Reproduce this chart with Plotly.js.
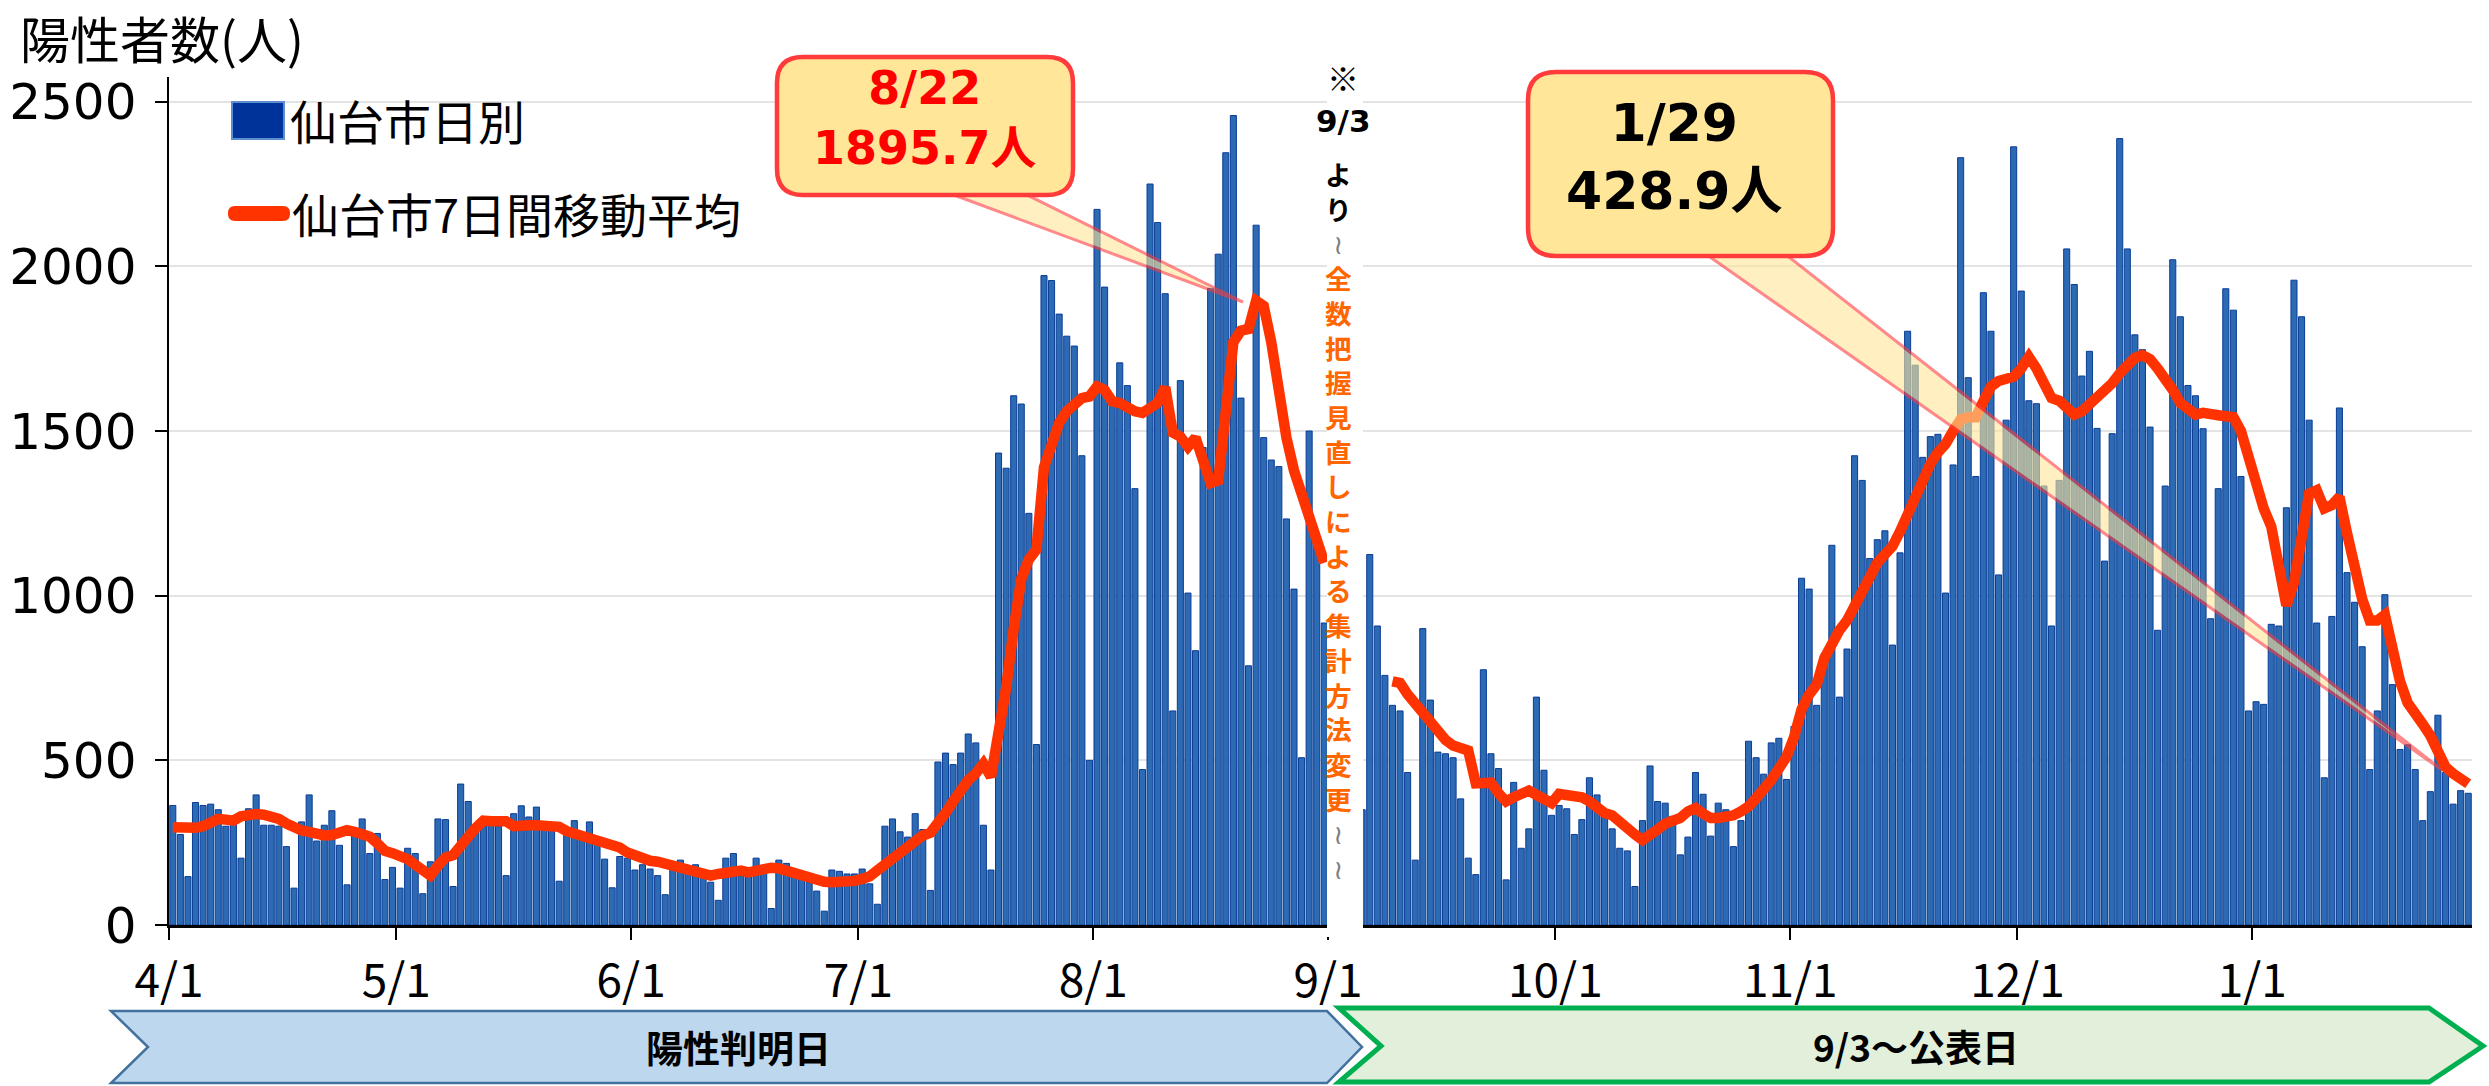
<!DOCTYPE html>
<html><head><meta charset="utf-8">
<script src="https://cdn.plot.ly/plotly-3.0.1.min.js"></script>
<style>html,body{margin:0;padding:0;background:#fff;}#chart{width:2489px;height:1086px;}</style>
</head><body><div id="chart"></div>
<script>
// ---- data ----
const firstDay = '2022-04-01';          // first bar (陽性判明日)
const hiddenDays = 4;                   // 9/1-9/4 hidden by the note column
const hiddenAvgDays = 8;                // 9/1-9/8 no moving average
const monthTicks = ['2022-04-01','2022-05-01','2022-06-01','2022-07-01','2022-08-01','2022-09-01','2022-10-01','2022-11-01','2022-12-01','2023-01-01'];
const monthLabels = ['4/1','5/1','6/1','7/1','8/1','9/1','10/1','11/1','12/1','1/1'];
const yTicks = [0,500,1000,1500,2000,2500];

// daily counts 4/1 - 8/31
const leftDaily = [363,275,147,372,363,367,350,300,305,203,
353,395,303,303,300,238,112,313,395,255,
303,347,242,122,275,322,217,278,138,175,
112,233,217,95,192,322,320,117,428,375,
300,310,305,300,150,338,362,328,358,300,
300,133,290,317,270,313,250,200,113,208,
203,167,183,170,150,92,170,197,170,183,
150,130,75,203,217,150,150,203,165,50,
197,187,150,140,130,103,42,167,163,155,
155,170,125,63,300,322,283,267,338,290,
105,495,522,487,522,580,553,303,167,1433,
1387,1607,1582,1250,548,1972,1957,1855,1788,1758,
1425,500,2173,1937,1580,1707,1638,1325,472,2250,
2133,1917,650,1653,1008,833,1450,1933,2037,2345,
2458,1600,787,2125,1480,1412,1392,1233,1020,508,
1500,1150,917];
// 7-day average 4/1 - 8/31
const leftAvg = [297,295,293,295,300,310,322,320,317,330,
335,337,335,330,322,308,295,287,283,275,
272,273,280,288,283,278,268,248,225,218,
213,200,183,165,150,180,205,212,235,268,
295,317,315,313,315,300,298,303,303,303,
302,298,285,278,268,262,255,250,245,235,
220,210,200,195,192,186,182,177,172,168,
160,150,155,158,165,165,160,165,175,174,
172,165,157,150,145,135,131,130,129,128,
134,140,148,166,185,203,222,242,262,272,
280,317,340,375,410,440,460,490,450,570,
720,900,1050,1110,1140,1390,1470,1525,1560,1585,
1600,1605,1635,1625,1590,1585,1570,1560,1555,1570,
1585,1633,1495,1483,1452,1480,1405,1342,1350,1580,
1770,1805,1810,1895.7,1880,1770,1620,1480,1380,1310,
1250,1190,1100];
// daily counts 9/5 - 1/29 (公表日)
const rightDaily = [350,1125,908,758,667,650,463,197,900,683,
525,520,508,383,203,153,775,520,475,137,
433,233,292,692,470,333,363,353,275,320,
447,395,340,292,233,225,117,317,483,375,
370,330,213,267,463,397,270,370,350,238,
317,558,508,458,553,567,442,603,1053,1020,
667,825,1153,692,838,1425,1350,1113,1170,1197,
850,1130,1803,1700,1420,1483,1490,1008,1397,2330,
1662,1362,1920,1803,1063,1533,2363,1925,1592,1583,
1333,908,1350,2053,1945,1667,1742,1508,1105,1492,
2388,2053,1792,1747,1512,895,1333,2020,1847,1638,
1607,1507,930,1325,1932,1867,1362,650,678,670,
913,908,1267,1958,1847,1533,917,447,937,1570,
1070,980,845,472,650,1003,730,533,547,472,
317,405,637,463,367,408,400];
// 7-day average 9/9 - 1/29
const rightAvg = [740,735,700,672,640,610,582,562,545,537,
530,430,432,432,400,375,388,395,408,395,
385,370,398,395,390,388,375,352,340,333,
310,292,275,258,270,290,308,315,325,345,
355,338,325,325,328,333,345,360,385,410,
440,475,510,570,655,700,730,810,855,895,
925,967,1020,1060,1100,1125,1150,1195,1245,1290,
1355,1400,1435,1460,1500,1535,1542,1542,1590,1635,
1652,1656,1665,1690,1725,1690,1645,1600,1592,1565,
1550,1560,1580,1600,1625,1645,1675,1705,1722,1730,
1718,1690,1660,1625,1585,1562,1550,1555,1555,1548,
1545,1542,1500,1420,1320,1265,1210,1100,970,1040,
1200,1310,1320,1265,1275,1300,1190,1080,990,925,
925,942,830,740,675,635,610,575,518,480,
460,440,428.9];

const legendNames = ['仙台市日別','仙台市7日間移動平均'];
const callout1 = ['8/22','1895.7人'];
const callout2 = ['1/29','428.9人'];
const noteHead = ['※','9/3','より'];
const noteOrange = '全数把握見直しによる集計方法変更';
const bandLabels = ['陽性判明日','9/3～公表日'];

// ---- build series ----
function dayList(start, n){
  const t0 = Date.parse(start + 'T00:00:00Z'), out = [];
  for (let k = 0; k < n; k++) out.push(new Date(t0 + k*86400000).toISOString().slice(0,10));
  return out;
}
const daily = leftDaily.concat(new Array(hiddenDays).fill(null), rightDaily);
const avg = leftAvg.concat(new Array(hiddenAvgDays).fill(null), rightAvg);
const dates = dayList(firstDay, daily.length);

// ---- geometry helpers (pixel -> paper) ----
const W=2489, H=1086, L=169, R=17, T=77, B=161;
const PW=W-L-R, PH=H-T-B;
const px = x => (x-L)/PW, py = y => (H-B-y)/PH;
const P = (x,y) => px(x).toFixed(5)+','+py(y).toFixed(5);
function poly(pts){ return 'M' + pts.map(p=>P(p[0],p[1])).join(' L') + ' Z'; }
function rrect(x0,y0,x1,y1,r){
  return `M${P(x0+r,y0)} L${P(x1-r,y0)} Q${P(x1,y0)} ${P(x1,y0+r)} L${P(x1,y1-r)} Q${P(x1,y1)} ${P(x1-r,y1)} L${P(x0+r,y1)} Q${P(x0,y1)} ${P(x0,y1-r)} L${P(x0,y0+r)} Q${P(x0,y0)} ${P(x0+r,y0)} Z`;
}
const pshape = (path, fill, lc, lw, extra) => Object.assign({type:'path', xref:'paper', yref:'paper', path, fillcolor:fill, line:{color:lc, width:lw}, layer:'above'}, extra||{});

const YEL='#FFE699', CRED='#FF3B3B';
const shapes = [
  {type:'rect', xref:'paper', yref:'paper', x0:px(1327), x1:px(1363), y0:py(937), y1:py(56), fillcolor:'#FFFFFF', line:{width:0}, layer:'above'},
  pshape(poly([[935,188],[1013,188],[1243,302]]), YEL, CRED, 3, {opacity:0.6}),
  pshape(rrect(777,57,1073,195,26), YEL, CRED, 4.5),
  pshape(poly([[1700,250],[1780,250],[2442,770]]), YEL, CRED, 3, {opacity:0.6}),
  pshape(rrect(1528,72,1833,256,28), YEL, CRED, 4.5),
  // legend symbols
  {type:'rect', xref:'paper', yref:'paper', x0:px(232), x1:px(284), y0:py(139), y1:py(102), fillcolor:'#003399', line:{color:'#5B8FD0', width:2}, layer:'above'},
  pshape(rrect(228,206,290,221,7), '#FF3300', '#FF3300', 0),
  // bottom bands
  pshape(poly([[111,1011],[1327,1011],[1362,1047],[1327,1083],[111,1083],[148,1047]]), '#BDD7EE', '#41719C', 2.5),
  pshape(poly([[1339,1008],[2429,1008],[2483,1046],[2429,1082],[1339,1082],[1381,1046]]), '#E2EFDA', '#00B050', 5)
];

const ann = (x,y,text,size,color,family,extra) => Object.assign({xref:'paper', yref:'paper', x:px(x), y:py(y), text, showarrow:false, xanchor:'center', yanchor:'middle', align:'center', font:{size, color, family}}, extra||{});
const JP='Noto Sans CJK JP', NUM='DejaVu Sans, Noto Sans CJK JP';

// vertical note column: one multi-line text, line pitch 34.7px
const wave = '<span style="color:#7F7F7F;font-family:DejaVu Sans">≀</span>';
const colLines = Array.from(noteHead[2]).map(c=>'<span style="color:#000000"><b>'+c+'</b></span>')
  .concat([wave], Array.from(noteOrange).map(c=>'<b>'+c+'</b>'), [wave, wave]);
const colTop = 172, pitch = 34.7;
const colMid = colTop + (colLines.length-1)*pitch/2;

const annotations = [
  ann(925,118,'<b>'+callout1.join('</b><br><b>')+'</b>',46,'#FF0000',NUM),
  ann(1674,157,'<b>'+callout2.join('</b><br><b>')+'</b>',52,'#000000',NUM),
  ann(288,120,legendNames[0],47,'#000',JP,{xanchor:'left'}),
  ann(290,213,legendNames[1],47,'#000',JP,{xanchor:'left'}),
  ann(738,1047,'<b>'+bandLabels[0]+'</b>',37,'#000',JP),
  ann(1916,1046,'<b>'+bandLabels[1]+'</b>',37,'#000',JP),
  ann(1343,77,noteHead[0],32,'#000',JP),
  ann(1343,121,'<b>'+noteHead[1]+'</b>',31,'#000',NUM),
  ann(1338,colMid,colLines.join('<br>'),pitch/1.3,'#FF6600',JP+', DejaVu Sans')
];

const traces = [
  {type:'bar', x:dates, y:daily, name:legendNames[0], xperiod:86400000, xperiodalignment:'middle',
   marker:{color:'#2C6AB4', line:{color:'#0A3C96', width:1}}, hoverinfo:'x+y'},
  {type:'scatter', mode:'lines', x:dates, y:avg, name:legendNames[1], xperiod:86400000, xperiodalignment:'middle',
   connectgaps:false, line:{color:'#FF3300', width:10.5}}
];

const layout = {
  width:W, height:H, margin:{l:L, r:R, t:T, b:B, pad:0},
  paper_bgcolor:'#fff', plot_bgcolor:'#fff',
  font:{family:JP, color:'#000'},
  showlegend:false, bargap:0.2,
  title:{text:'陽性者数(人)', font:{family:JP, size:50, color:'#000'}, xref:'container', yref:'container', x:20/W, xanchor:'left', y:1-41/H, yanchor:'middle'},
  xaxis:{type:'date', range:['2022-04-01','2023-01-30'], tickvals:monthTicks, ticktext:monthLabels,
    ticks:'outside', ticklen:12, tickwidth:2, tickcolor:'#000', showline:true, linecolor:'#000', linewidth:2.5,
    showgrid:false, zeroline:false, tickfont:{family:JP, size:46, color:'#000'}, ticklabelstandoff:2, fixedrange:true},
  yaxis:{range:[0,2575], tickvals:yTicks, ticks:'outside', ticklen:12, tickwidth:2, tickcolor:'#000',
    showline:true, linecolor:'#000', linewidth:2.5, showgrid:true, gridcolor:'#E4E4E4', gridwidth:2, zeroline:false,
    tickfont:{family:'DejaVu Sans', size:50, color:'#000'}, ticklabelstandoff:8, fixedrange:true},
  shapes, annotations
};
Plotly.newPlot('chart', traces, layout, {displayModeBar:false, staticPlot:true});
</script></body></html>
